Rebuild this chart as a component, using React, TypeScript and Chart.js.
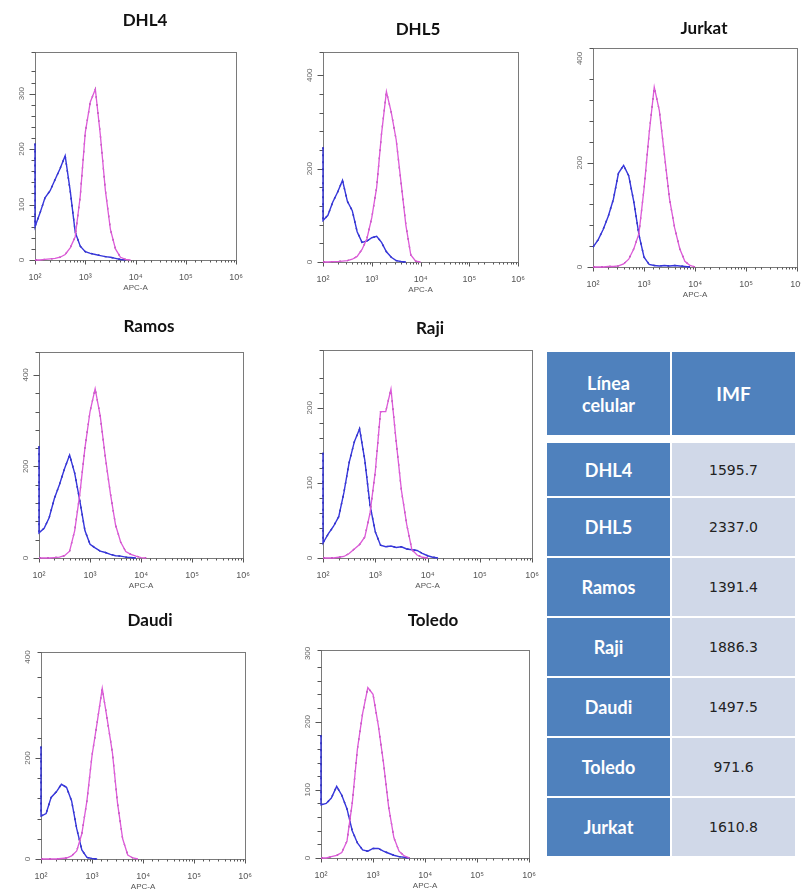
import React, { useEffect, useRef } from 'react';
import { Chart, registerables } from 'chart.js';
Chart.register(...registerables);

// Fluorescence grid (APC-A), 0.1 decade steps from 10^2
const X_GRID = [100, 126, 158, 200, 251, 316, 398, 501, 631, 794, 1000, 1259, 1585, 1995, 2512, 3162, 3981, 5012, 6310, 7943, 10000, 12589, 15849];

const X_TICK_VALUES = [100, 1000, 10000, 100000, 1000000];
const X_TICK_TEXT = ['10²', '10³', '10⁴', '10⁵', '10⁶'];
const X_TITLE = 'APC-A';

// Counts per panel: blue = control, magenta = stained
const DHL4_BLUE = [60, 85, 112, 125, 145, 165, 188, 125, 50, 25, 15, 12, 10, 8, 6, 5, 3, 1, 0];
const DHL4_MAG = [0, 0, 1, 2, 3, 5, 10, 22, 42, 115, 230, 285, 308, 225, 125, 55, 20, 5, 1, 0];

const DHL5_BLUE = [89, 100, 128, 150, 175, 130, 110, 65, 42, 45, 52, 55, 42, 22, 10, 3, 1, 0];
const DHL5_MAG = [0, 0, 1, 1, 2, 3, 6, 12, 27, 50, 95, 160, 275, 365, 320, 262, 170, 78, 15, 2, 0];

const JURKAT_BLUE = [38, 52, 72, 98, 130, 180, 195, 175, 125, 62, 19, 5, 3, 2, 3, 2, 3, 2, 1, 0];
const JURKAT_MAG = [0, 0, 0, 1, 1, 2, 6, 15, 35, 64, 150, 256, 345, 300, 215, 130, 75, 35, 11, 3, 0];

const RAMOS_BLUE = [55, 65, 88, 130, 160, 195, 225, 185, 125, 60, 30, 22, 15, 12, 8, 5, 4, 2, 1, 0];
const RAMOS_MAG = [0, 0, 0, 1, 2, 5, 15, 60, 140, 240, 320, 370, 310, 220, 140, 72, 35, 14, 8, 4, 1, 0];

const RAJI_BLUE = [20, 32, 42, 55, 87, 127, 155, 172, 130, 70, 35, 17, 15, 16, 14, 15, 12, 11, 10, 6, 3, 1, 0];
const RAJI_MAG = [0, 0, 0, 1, 2, 6, 12, 18, 28, 60, 115, 195, 195, 225, 155, 90, 45, 11, 4, 1, 0];

const DAUDI_BLUE = [85, 90, 122, 133, 148, 142, 115, 60, 18, 3, 1, 0];
const DAUDI_MAG = [0, 0, 0, 0, 1, 2, 6, 16, 50, 115, 205, 270, 338, 275, 210, 110, 40, 8, 2, 0];

const TOLEDO_BLUE = [78, 80, 88, 105, 92, 72, 40, 22, 12, 10, 14, 14, 10, 7, 4, 2, 1, 0];
const TOLEDO_MAG = [0, 0, 2, 4, 8, 25, 80, 160, 212, 250, 240, 195, 140, 75, 30, 10, 3, 0];

// Table
const CELL_LINES = ['DHL4', 'DHL5', 'Ramos', 'Raji', 'Daudi', 'Toledo', 'Jurkat'];
const IMF_VALUES = [1595.7, 2337.0, 1391.4, 1886.3, 1497.5, 971.6, 1610.8];
const TABLE_HEADERS = ['Línea celular', 'IMF'];

const BLUE = '#3636dc';
const BLUE_DARK = '#1a1a78';
const MAG = '#dc5ad8';
const MAG_DARK = '#84307f';

type PanelDef = {
  name: string; blue: number[]; mag: number[]; pile: number | null;
  yMax: number; yStep: number; yMajor: number;
  box: number[]; title: number[];
};

const PANELS: PanelDef[] = [
  { name: 'DHL4', blue: DHL4_BLUE, mag: DHL4_MAG, pile: 210, yMax: 375, yStep: 20, yMajor: 100, box: [35, 52, 239, 260], title: [145, 21] },
  { name: 'DHL5', blue: DHL5_BLUE, mag: DHL5_MAG, pile: 246, yMax: 450, yStep: 40, yMajor: 200, box: [323, 52, 521, 262], title: [418, 30] },
  { name: 'Jurkat', blue: JURKAT_BLUE, mag: JURKAT_MAG, pile: null, yMax: 420, yStep: 40, yMajor: 200, box: [593, 48, 800, 267], title: [704, 29] },
  { name: 'Ramos', blue: RAMOS_BLUE, mag: RAMOS_MAG, pile: 244, yMax: 450, yStep: 40, yMajor: 200, box: [39, 352, 246, 558], title: [149, 327] },
  { name: 'Raji', blue: RAJI_BLUE, mag: RAJI_MAG, pile: 140, yMax: 277, yStep: 20, yMajor: 100, box: [323, 350, 535, 558], title: [430, 329] },
  { name: 'Daudi', blue: DAUDI_BLUE, mag: DAUDI_MAG, pile: 223, yMax: 410, yStep: 40, yMajor: 200, box: [41, 652, 248, 859], title: [150, 621] },
  { name: 'Toledo', blue: TOLEDO_BLUE, mag: TOLEDO_MAG, pile: 180, yMax: 305, yStep: 20, yMajor: 100, box: [321, 650, 532, 858], title: [433, 621] },
];

const PAD_L = 30, PAD_T = 50, PAD_R = 8, PAD_B = 40;
const Y_AXIS_W = 8, X_AXIS_H = 33;

function isDecade(v: number) {
  const l = Math.log10(v);
  return Math.abs(l - Math.round(l)) < 1e-6;
}

function Panel({ p }: { p: PanelDef }) {
  const ref = useRef<HTMLCanvasElement>(null);
  const [l, t, r, b] = p.box;
  const w = r - l + PAD_L + PAD_R;
  const h = b - t + PAD_T + PAD_B;
  const left = l - PAD_L;
  const top = t - PAD_T;

  useEffect(() => {
    if (!ref.current) return;
    const toPts = (ys: number[]) => ys.map((y, i) => ({ x: X_GRID[i], y }));
    const magPts = toPts(p.mag);
    const bluePts = p.pile != null ? [{ x: X_GRID[0], y: p.pile }, ...toPts(p.blue)] : toPts(p.blue);

    const framePlugin = {
      id: 'frame',
      beforeDatasetsDraw(chart: any) {
        const { ctx, chartArea: a, scales } = chart;
        const L = Math.round(a.left) + 0.5, T = Math.round(a.top) + 0.5;
        const R = Math.round(a.right) + 0.5, B = Math.round(a.bottom) + 0.5;
        ctx.save();
        ctx.strokeStyle = '#7a7a7a';
        ctx.lineWidth = 1;
        ctx.strokeRect(L, T, R - L, B - T);
        // tick marks from the scales
        ctx.strokeStyle = '#555';
        ctx.beginPath();
        scales.y.ticks.forEach((tk: any) => {
          const y = Math.round(scales.y.getPixelForValue(tk.value)) + 0.5;
          const major = tk.value % p.yMajor === 0;
          ctx.moveTo(L - (major ? 6 : 4), y);
          ctx.lineTo(L, y);
        });
        scales.x.ticks.forEach((tk: any) => {
          const x = Math.round(scales.x.getPixelForValue(tk.value)) + 0.5;
          const major = isDecade(tk.value);
          ctx.moveTo(x, B);
          ctx.lineTo(x, B + (major ? 4 : 2));
        });
        ctx.stroke();
        // rotated y labels
        ctx.fillStyle = '#666';
        ctx.font = '8px "Liberation Sans", Arial, sans-serif';
        ctx.textAlign = 'center';
        ctx.textBaseline = 'middle';
        for (let v = 0; v <= p.yMax; v += p.yMajor) {
          const y = scales.y.getPixelForValue(v);
          ctx.save();
          ctx.translate(a.left - 13, y);
          ctx.rotate(-Math.PI / 2);
          ctx.fillText(String(v), 0, 0);
          ctx.restore();
        }
        ctx.fillStyle = '#111';
        ctx.font = 'bold 17px Lato, "Open Sans", sans-serif';
        ctx.fillText(p.name, p.title[0] - left, p.title[1] - top);
        ctx.restore();
      },
    };

    const chart = new Chart(ref.current, {
      type: 'scatter',
      data: {
        datasets: [
          { data: magPts, showLine: true, borderColor: MAG, borderWidth: 1.3, pointRadius: 0, tension: 0, clip: 3 },
          { data: magPts, showLine: true, borderColor: MAG_DARK, borderWidth: 1.3, borderDash: [2, 6], pointRadius: 0, tension: 0, clip: 3 },
          { data: bluePts, showLine: true, borderColor: BLUE, borderWidth: 1.4, pointRadius: 0, tension: 0, clip: 3 },
          { data: bluePts, showLine: true, borderColor: BLUE_DARK, borderWidth: 1.4, borderDash: [2, 5], pointRadius: 0, tension: 0, clip: 3 },
        ],
      },
      options: {
        animation: false,
        responsive: false,
        events: [],
        layout: { padding: { left: PAD_L - Y_AXIS_W, top: PAD_T, right: PAD_R, bottom: PAD_B - X_AXIS_H } },
        plugins: { legend: { display: false }, tooltip: { enabled: false }, title: { display: false } },
        scales: {
          x: {
            type: 'logarithmic',
            min: 100,
            max: 1000000,
            afterFit: (s: any) => { s.height = X_AXIS_H; },
            ticks: {
              autoSkip: false,
              maxRotation: 0,
              minRotation: 0,
              padding: 4,
              color: '#555',
              font: { size: 9, family: '"Liberation Sans", Arial, sans-serif' },
              callback: (v: any) => {
                const i = X_TICK_VALUES.findIndex((tv) => Math.abs(tv - Number(v)) < 1e-6 * tv);
                return i >= 0 ? X_TICK_TEXT[i] : '';
              },
            },
            grid: { display: false },
            border: { display: false },
            title: { display: true, text: X_TITLE, color: '#555', padding: 0, font: { size: 8, family: '"Liberation Sans", Arial, sans-serif' } },
          },
          y: {
            min: 0,
            max: p.yMax,
            afterFit: (s: any) => { s.width = Y_AXIS_W; },
            ticks: { stepSize: p.yStep, autoSkip: false, callback: () => '' },
            grid: { display: false },
            border: { display: false },
          },
        },
      } as any,
      plugins: [framePlugin],
    });
    return () => chart.destroy();
  }, []);

  return (
    <canvas
      ref={ref}
      width={w}
      height={h}
      style={{ position: 'absolute', left, top, width: w, height: h }}
    />
  );
}

function Table() {
  const L = 547, T = 352, C1 = 123, C2 = 123, GAP = 2;
  const headerH = 83;
  const bodyTop = 443;
  const rowHs = [53, 58, 58, 58, 58, 58, 58];
  const blue = '#4f81bd';
  const light = '#d0d8e8';
  const nameFont = 'Lato, "Open Sans", sans-serif';
  const cell = (bg: string): React.CSSProperties => ({
    position: 'absolute', background: bg, display: 'flex', alignItems: 'center', justifyContent: 'center', textAlign: 'center',
  });
  let y = bodyTop;
  const rows = CELL_LINES.map((name, i) => {
    const top = y;
    y += rowHs[i] + GAP;
    return (
      <React.Fragment key={name}>
        <div style={{ ...cell(blue), left: L, top, width: C1, height: rowHs[i], color: '#fff', fontFamily: nameFont, fontWeight: 700, fontSize: 18 }}>{name}</div>
        <div style={{ ...cell(light), left: L + C1 + GAP, top, width: C2, height: rowHs[i], color: '#222', fontFamily: '"DejaVu Sans", Verdana, sans-serif', fontSize: 14 }}>{IMF_VALUES[i].toFixed(1)}</div>
      </React.Fragment>
    );
  });
  return (
    <>
      <div style={{ ...cell(blue), left: L, top: T, width: C1, height: headerH, color: '#fff', fontFamily: nameFont, fontWeight: 700, fontSize: 18, lineHeight: '22px' }}>
        <span style={{ width: 80 }}>{TABLE_HEADERS[0]}</span>
      </div>
      <div style={{ ...cell(blue), left: L + C1 + GAP, top: T, width: C2, height: headerH, color: '#fff', fontFamily: nameFont, fontWeight: 700, fontSize: 19 }}>{TABLE_HEADERS[1]}</div>
      {rows}
    </>
  );
}

export default function App() {
  return (
    <div style={{ position: 'absolute', left: 0, top: 0, width: 801, height: 894, overflow: 'hidden', background: '#fff' }}>
      {PANELS.map((p) => <Panel key={p.name} p={p} />)}
      <Table />
    </div>
  );
}
